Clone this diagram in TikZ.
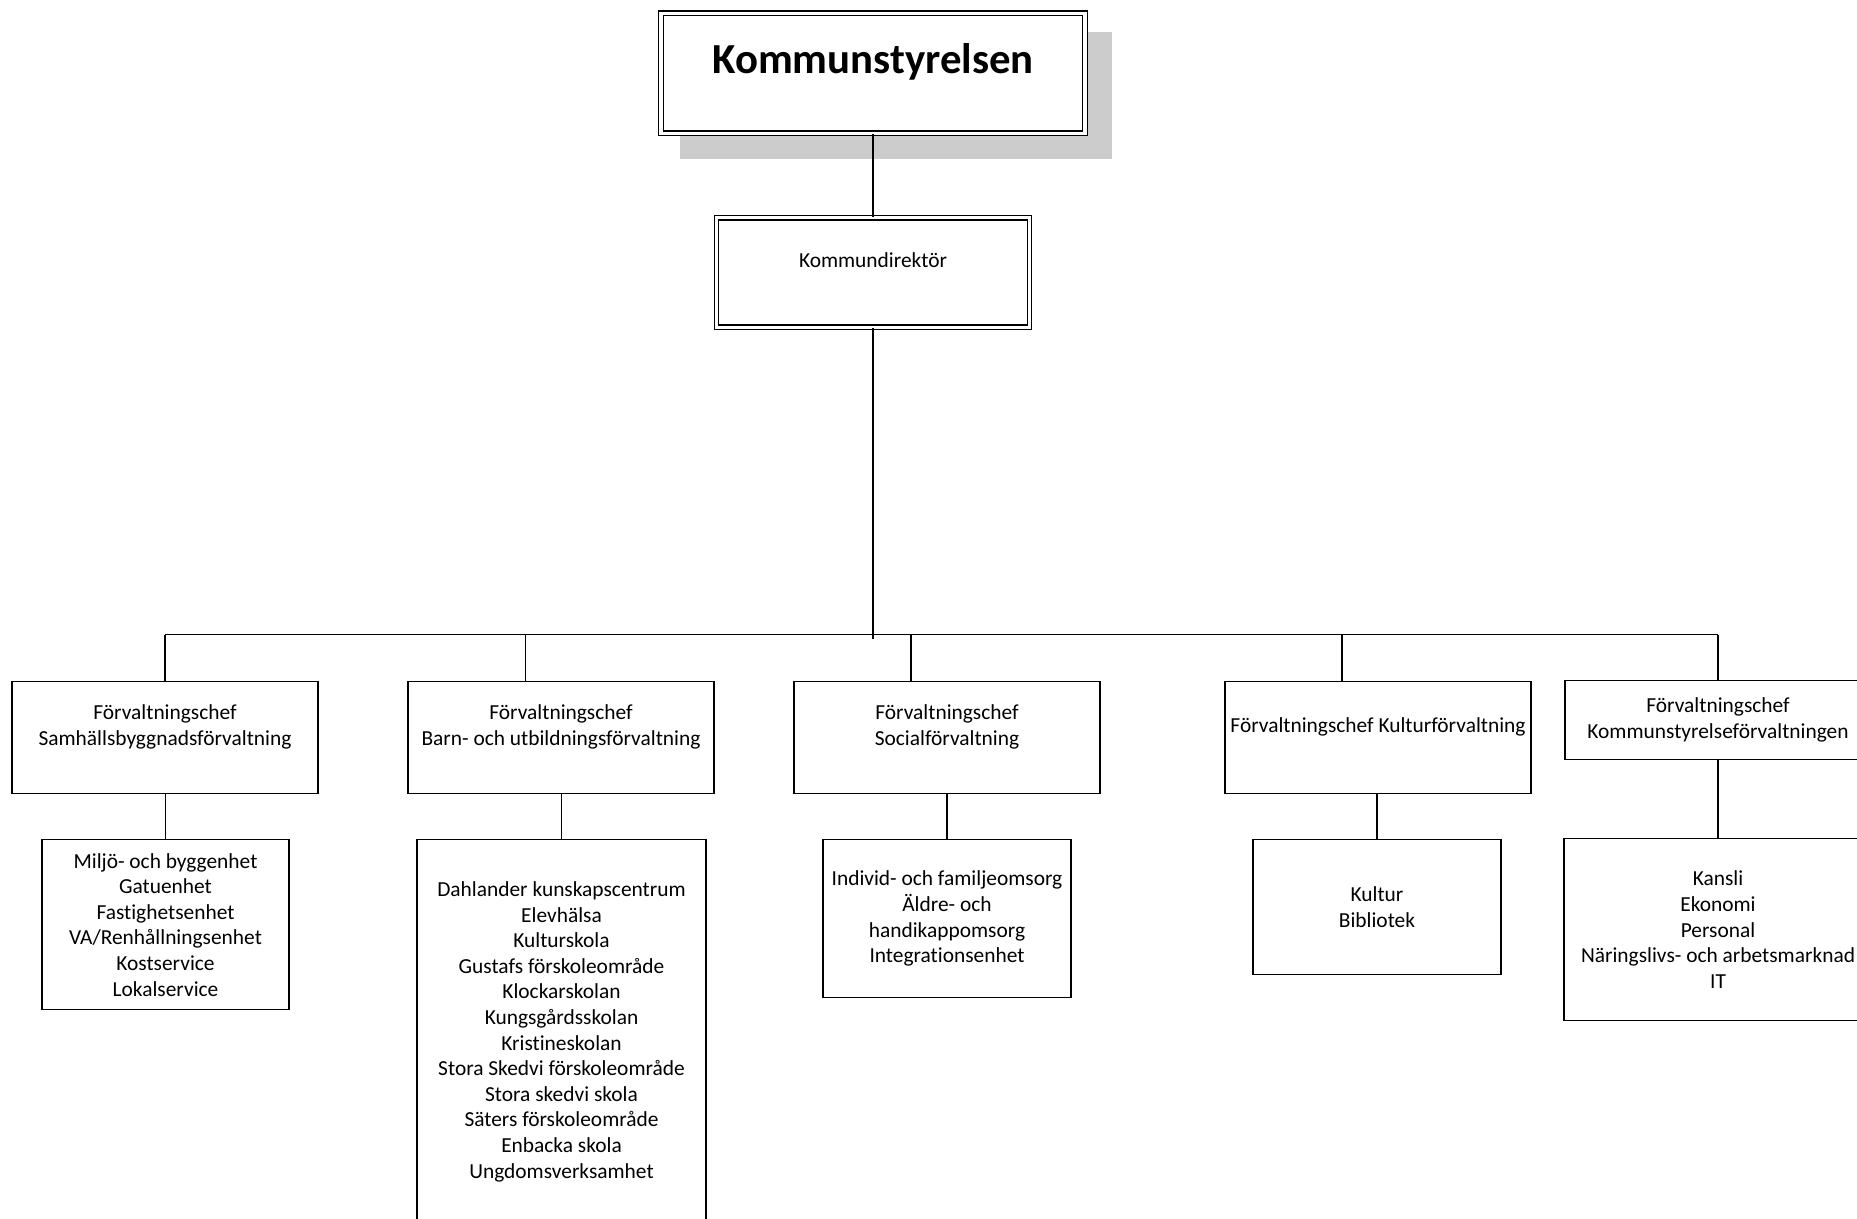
\documentclass[tikz,border=0pt]{standalone}
\usepackage{fontspec}
\setmainfont{Carlito}[Ligatures={NoCommon}]

\begin{document}
\begin{tikzpicture} [x=0.5pt, y=-0.5pt,
    box/.style={draw, fill=white, line width=0.7pt, align=center, anchor=north, inner sep=0pt,
        font=\fontsize{10.7pt}{12.8pt}\selectfont},
    doublebox/.style={box, double, double distance=1.55pt},
    link/.style={line width=0.7pt}]

    \definecolor{shadowgray}{gray}{0.8};

    % these coordinates fix the size of the page
    \useasboundingbox (0,0) rectangle (1857,1219);

    % shadow behind the board
    \fill[shadowgray] (680,32) rectangle (1112,159);

    % board and director
    \node (board) at (873,12.5) [doublebox, minimum width=212pt, minimum height=60pt,
        font=\bfseries\fontsize{21.4pt}{25pt}\selectfont, text height=14pt, text depth=14pt]
        {Kommunstyrelsen};
    \node (director) at (873,217) [doublebox, minimum width=156.5pt, minimum height=54.75pt]
        {Kommundirektör\\\mbox{}};

    % heads of the administrations
    \begin{scope} [every node/.style={box, minimum width=153pt, minimum height=56pt}]
    \node (chefA) at (165,681) {Förvaltningschef\\Samhällsbyggnadsförvaltning\\\mbox{}};
    \node (chefB) at (561,681) {Förvaltningschef\\Barn- och utbildningsförvaltning\\\mbox{}};
    \node (chefC) at (947,681) {Förvaltningschef\\Socialförvaltning\\\mbox{}};
    \node (chefD) at (1378,681) {Förvaltningschef Kulturförvaltning\\\mbox{}};
    \node (chefE) at (1718,680) [minimum height=39.5pt]
        {Förvaltningschef\\Kommunstyrelseförvaltningen};
    \end{scope}

    % units under each head
    \begin{scope} [every node/.style={box}]
    \node (unitA) at (165.5,839) [minimum width=123.5pt, minimum height=85pt]
        {Miljö- och byggenhet\\Gatuenhet\\Fastighetsenhet\\VA/Renhållningsenhet\\Kostservice\\Lokalservice};
    \node (unitB) at (561.5,839) [minimum width=144.5pt, minimum height=192pt]
        {Dahlander kunskapscentrum\\Elevhälsa\\Kulturskola\\Gustafs förskoleområde\\Klockarskolan\\Kungsgårdsskolan\\Kristineskolan\\Stora Skedvi förskoleområde\\Stora skedvi skola\\Säters förskoleområde\\Enbacka skola\\Ungdomsverksamhet};
    \node (unitC) at (947,839) [minimum width=124pt, minimum height=79pt]
        {Individ- och familjeomsorg\\Äldre- och\\handikappomsorg\\Integrationsenhet};
    \node (unitD) at (1377,839) [minimum width=124pt, minimum height=67.5pt]
        {Kultur\\Bibliotek};
    \node (unitE) at (1718,838) [minimum width=154pt, minimum height=91pt]
        {Kansli\\Ekonomi\\Personal\\Näringslivs- och arbetsmarknad\\IT};
    \end{scope}

    % lines between the boxes
    \begin{scope} [link]
    \coordinate (bus) at (0,634.5);
    \coordinate (hub) at (873,639);
    \coordinate (dropA) at (chefA.north);
    \coordinate (dropB) at ([xshift=-17.75pt]chefB.north);
    \coordinate (dropC) at ([xshift=-18pt]chefC.north);
    \coordinate (dropD) at ([xshift=-18pt]chefD.north);
    \coordinate (dropE) at (chefE.north);
    \draw (board) -- (director);
    \draw (director) -- (hub);
    \draw (dropA |- bus) -- (dropE |- bus);
    \foreach \c in {A,...,E} {
        \draw (drop\c |- bus) -- (drop\c);
        \draw (unit\c.north |- chef\c.south) -- (unit\c.north);
    }
    \end{scope}

\end{tikzpicture}
\end{document}
